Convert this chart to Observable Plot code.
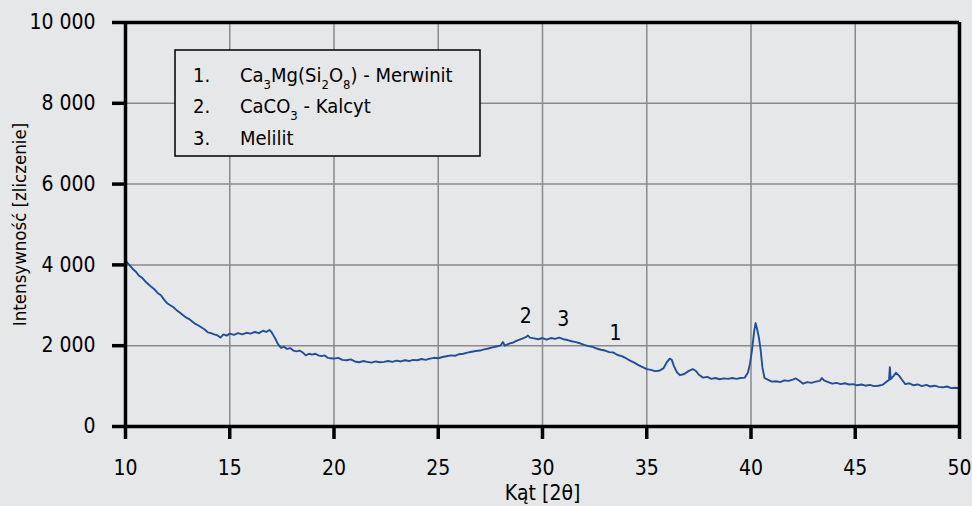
<!DOCTYPE html>
<html>
<head>
<meta charset="utf-8">
<script src="https://cdn.jsdelivr.net/npm/d3@7"></script>
<script src="https://cdn.jsdelivr.net/npm/@observablehq/plot@0.6"></script>
<style>
  html, body { margin: 0; padding: 0; background: #e6e7e9; }
  #chart svg { display: block; }
</style>
</head>
<body>
<div id="chart"></div>
<script>
// 2θ angle (degrees) and intensity (counts)
const angle = [
  10.0, 10.1, 10.2, 10.35, 10.5, 10.65, 10.8, 10.95, 11.1, 11.25, 11.4, 11.55, 11.7, 11.85,
  12.0, 12.15, 12.3, 12.45, 12.6, 12.75, 12.9, 13.05, 13.2, 13.35, 13.5, 13.65, 13.8, 13.95,
  14.1, 14.25, 14.4, 14.55, 14.7, 14.85, 15.0, 15.2, 15.4, 15.6, 15.8, 16.0, 16.2, 16.4,
  16.6, 16.75, 16.9, 17.0, 17.1, 17.2, 17.3, 17.45, 17.6, 17.75, 17.9, 18.05, 18.2, 18.35,
  18.5, 18.65, 18.8, 18.95, 19.1, 19.25, 19.4, 19.55, 19.7, 19.85, 20.0, 20.2, 20.4, 20.6,
  20.8, 21.0, 21.2, 21.4, 21.6, 21.8, 22.0, 22.2, 22.4, 22.6, 22.8, 23.0, 23.2, 23.4,
  23.6, 23.8, 24.0, 24.2, 24.4, 24.6, 24.8, 25.0, 25.2, 25.4, 25.6, 25.8, 26.0, 26.2,
  26.4, 26.6, 26.8, 27.0, 27.2, 27.4, 27.6, 27.8, 28.0, 28.1, 28.2, 28.4, 28.6, 28.8,
  29.0, 29.2, 29.3, 29.4, 29.6, 29.8, 30.0, 30.2, 30.4, 30.6, 30.8, 31.0, 31.2, 31.4,
  31.6, 31.8, 32.0, 32.2, 32.4, 32.6, 32.8, 33.0, 33.2, 33.4, 33.6, 33.8, 34.0, 34.2,
  34.4, 34.6, 34.8, 35.0, 35.2, 35.4, 35.6, 35.8, 35.95, 36.1, 36.2, 36.3, 36.45, 36.6,
  36.8, 37.0, 37.2, 37.35, 37.5, 37.7, 37.9, 38.1, 38.3, 38.5, 38.7, 38.9, 39.1, 39.3,
  39.5, 39.7, 39.85, 39.95, 40.05, 40.15, 40.22, 40.3, 40.38, 40.46, 40.55, 40.65, 40.8, 41.0,
  41.2, 41.4, 41.6, 41.8, 42.0, 42.15, 42.3, 42.5, 42.7, 42.9, 43.1, 43.3, 43.4, 43.5,
  43.7, 43.9, 44.1, 44.3, 44.5, 44.7, 44.9, 45.1, 45.3, 45.5, 45.7, 45.9, 46.1, 46.3,
  46.5, 46.62, 46.66, 46.7, 46.85, 46.95, 47.1, 47.25, 47.4, 47.6, 47.8, 48.0, 48.2, 48.4,
  48.6, 48.8, 49.0, 49.2, 49.4, 49.6, 49.8, 50.0
];
const intensity = [
  4120, 4040, 3990, 3900, 3830, 3730, 3680, 3590, 3520, 3450, 3390, 3300, 3250, 3140,
  3050, 3000, 2950, 2880, 2820, 2760, 2700, 2660, 2600, 2540, 2500, 2450, 2400, 2330,
  2310, 2280, 2260, 2200, 2280, 2250, 2300, 2270, 2310, 2280, 2320, 2300, 2340, 2310,
  2370, 2340, 2390, 2340, 2250, 2160, 2050, 1950, 1970, 1920, 1940, 1880, 1860, 1880,
  1830, 1760, 1800, 1780, 1800, 1760, 1740, 1760, 1700, 1690, 1680, 1700, 1650, 1640,
  1660, 1610, 1590, 1620, 1600, 1580, 1610, 1590, 1600, 1620, 1600, 1630, 1610, 1640,
  1620, 1650, 1640, 1670, 1650, 1680, 1700, 1690, 1720, 1740, 1760, 1750, 1790, 1800,
  1830, 1850, 1870, 1880, 1910, 1930, 1960, 1980, 2010, 2090, 2000, 2050, 2080, 2130,
  2170, 2210, 2250, 2200, 2180, 2160, 2190, 2150, 2190, 2170, 2200, 2160, 2140, 2110,
  2090, 2060, 2020, 1990, 1970, 1930, 1900, 1880, 1840, 1830, 1770, 1740, 1690, 1630,
  1580, 1520, 1470, 1420, 1400, 1370, 1380, 1440, 1580, 1680, 1650, 1500, 1340, 1270,
  1300, 1370, 1420, 1380, 1280, 1210, 1230, 1180, 1200, 1170, 1190, 1180, 1200, 1180,
  1200, 1210, 1330, 1550, 1900, 2350, 2560, 2400, 2200, 1900, 1450, 1200, 1160, 1110,
  1120, 1100, 1140, 1130, 1160, 1190, 1140, 1060, 1100, 1080, 1110, 1130, 1200, 1140,
  1100, 1060, 1080, 1050, 1070, 1040, 1050, 1020, 1040, 1010, 1030, 1000, 1010, 1030,
  1110, 1150, 1470, 1170, 1260, 1330, 1260, 1150, 1050, 1070, 1020, 1040, 1000, 1030,
  990, 1010, 980, 970, 990, 950, 960, 940
];

const xTicks = [10, 15, 20, 25, 30, 35, 40, 45, 50];
const yTicks = [0, 2000, 4000, 6000, 8000, 10000];

const peakLabels = ["2", "3", "1"];
const peakAngle = [29.2, 31.0, 33.5];
const peakIntensity = [2720, 2650, 2300];

const legendNums = ["1.", "2.", "3."];

const xTitle = "Kąt [2θ]";
const yTitle = "Intensywność [zliczenie]";

const data = angle.map((a, i) => ({angle: a, intensity: intensity[i]}));
const peaks = peakLabels.map((l, i) => ({label: l, angle: peakAngle[i], intensity: peakIntensity[i]}));

const FONT = "'DejaVu Sans Condensed', 'DejaVu Sans', sans-serif";
const BG = "#e6e7e9";
const fmt = d => d3.format(",")(d).replace(",", " ");

const chart = Plot.plot({
  width: 972,
  height: 506,
  marginLeft: 125,
  marginRight: 13,
  marginTop: 22,
  marginBottom: 80,
  style: {background: BG, fontFamily: FONT, fontSize: "21px", color: "#000", fontStretch: "condensed"},
  x: {domain: [10, 50]},
  y: {domain: [0, 10000]},
  marks: [
    Plot.gridX(xTicks, {stroke: "#8a8a8a", strokeOpacity: 1, strokeWidth: 1.5}),
    Plot.gridY(yTicks, {stroke: "#8a8a8a", strokeOpacity: 1, strokeWidth: 1.5}),
    Plot.line(data, {x: "angle", y: "intensity", stroke: "#1f4f9c", strokeWidth: 1.9}),
    Plot.ruleX([10, 50], {stroke: "#000", strokeWidth: 3.5}),
    Plot.ruleY([0, 10000], {stroke: "#000", strokeWidth: 3.5}),
    Plot.axisX(xTicks, {tickSize: 13, tickPadding: 21, strokeWidth: 3.5, stroke: "#000", label: null, fontSize: 21}),
    Plot.axisY(yTicks, {tickSize: 13, tickPadding: 17, strokeWidth: 3.5, stroke: "#000", label: null, tickFormat: fmt, fontSize: 21}),
    Plot.text(peaks, {x: "angle", y: "intensity", text: "label", fontSize: 21, fill: "#000"}),
    Plot.text([xTitle], {frameAnchor: "bottom", dy: 67, lineAnchor: "middle", textAnchor: "middle", fontSize: 21, fill: "#000"}),
    Plot.text([yTitle], {frameAnchor: "left", dx: -105, rotate: -90, textAnchor: "middle", lineAnchor: "middle", fontSize: 18.5, fill: "#000"})
  ]
});

document.getElementById("chart").append(chart);

// Legend box (annotation)
const svg = d3.select(chart);
const g = svg.append("g")
  .attr("font-family", FONT)
  .attr("font-size", 20)
  .attr("text-anchor", "start")
  .attr("fill", "#000");
g.append("rect").attr("x", 175).attr("y", 50).attr("width", 305).attr("height", 106)
  .attr("fill", BG).attr("stroke", "#000").attr("stroke-width", 1.5);
const baselines = [82, 113, 145];
legendNums.forEach((n, i) => {
  g.append("text").attr("x", 193).attr("y", baselines[i]).text(n);
});
function addRich(y, parts) {
  const t = g.append("text").attr("x", 240).attr("y", y);
  parts.forEach(p => {
    const s = t.append("tspan").text(p.t);
    if (p.sub) s.attr("font-size", 13).attr("dy", 7);
    else if (p.after) s.attr("dy", -7);
  });
}
addRich(baselines[0], [
  {t: "Ca"}, {t: "3", sub: true}, {t: "Mg(Si", after: true}, {t: "2", sub: true},
  {t: "O", after: true}, {t: "8", sub: true}, {t: ") - Merwinit", after: true}
]);
addRich(baselines[1], [
  {t: "CaCO"}, {t: "3", sub: true}, {t: " - Kalcyt", after: true}
]);
addRich(baselines[2], [{t: "Melilit"}]);
</script>
</body>
</html>
